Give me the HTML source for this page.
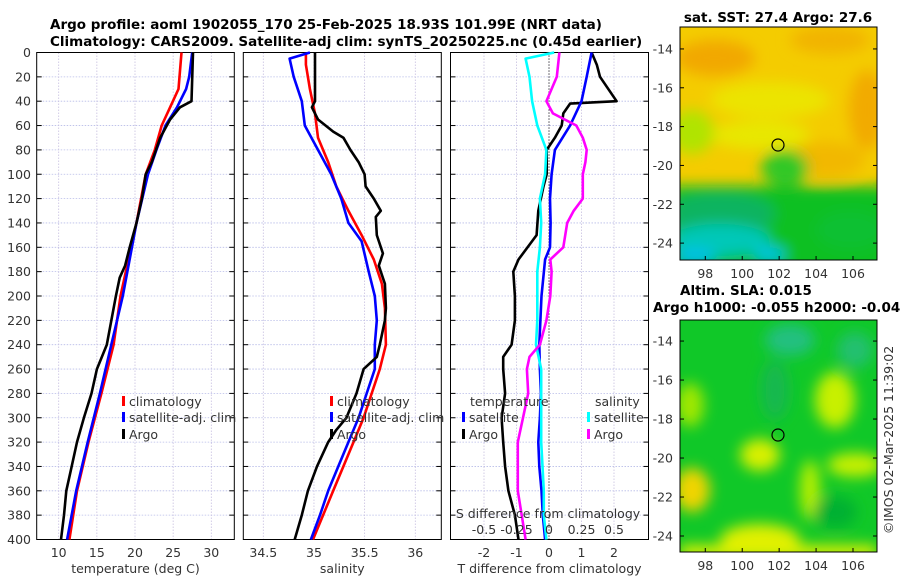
<!DOCTYPE html>
<html><head><meta charset="utf-8"><style>
html,body{margin:0;padding:0;background:#fff;}
svg{display:block;font-family:"DejaVu Sans","Liberation Sans",sans-serif;}
.t{font-size:12.5px;fill:#333;}
.b{font-weight:bold;font-size:13.5px;fill:#000;}
</style></head><body>
<svg id="fig" width="900" height="580" viewBox="0 0 900 580">
<defs>
<filter id="bl" x="-20%" y="-20%" width="140%" height="140%"><feGaussianBlur stdDeviation="7"/></filter>
<clipPath id="c1"><rect x="680" y="27" width="197" height="233"/></clipPath>
<clipPath id="c2"><rect x="680" y="320" width="197" height="232"/></clipPath>
</defs>
<text class="b" x="50" y="29">Argo profile: aoml 1902055_170 25-Feb-2025 18.93S 101.99E (NRT data)</text>
<text class="b" x="50" y="46">Climatology: CARS2009. Satellite-adj clim: synTS_20250225.nc (0.45d earlier)</text>
<g id="p1"></g>
<g id="p2"></g>
<g id="p3"></g>

<!-- SST map -->
<g>
<text class="b" x="778" y="22" text-anchor="middle">sat. SST: 27.4 Argo: 27.6</text>
<g clip-path="url(#c1)">
<rect x="680" y="27" width="197" height="233" fill="#f4cc00"/>
<g filter="url(#bl)">
<ellipse cx="715" cy="58" rx="40" ry="18" fill="#f2a800"/>
<ellipse cx="830" cy="40" rx="40" ry="14" fill="#f2b400"/>
<ellipse cx="867" cy="110" rx="18" ry="40" fill="#f2aa00"/>
<ellipse cx="770" cy="100" rx="60" ry="18" fill="#ece400"/>
<ellipse cx="760" cy="135" rx="50" ry="14" fill="#e8e800"/>
<ellipse cx="692" cy="132" rx="22" ry="22" fill="#b0e400"/>
<ellipse cx="825" cy="160" rx="40" ry="18" fill="#f2b800"/>
<ellipse cx="785" cy="168" rx="24" ry="18" fill="#30c828"/>
<rect x="670" y="186" width="220" height="90" fill="#10c020"/>
<ellipse cx="720" cy="214" rx="55" ry="22" fill="#10b460"/>
<ellipse cx="720" cy="240" rx="50" ry="16" fill="#00c8b8"/>
<ellipse cx="695" cy="256" rx="22" ry="7" fill="#00c0f0"/>
<ellipse cx="770" cy="254" rx="16" ry="7" fill="#00c4e8"/>
<ellipse cx="850" cy="230" rx="35" ry="20" fill="#10c030"/>
</g>
</g>
<rect x="680" y="27" width="197" height="233" fill="none" stroke="#000" stroke-width="1"/>
<circle cx="778" cy="145" r="6" fill="none" stroke="#000" stroke-width="1.2"/>
<g id="m1ax"></g>
</g>

<!-- SLA map -->
<g>
<text class="b" x="680" y="295">Altim. SLA: 0.015</text>
<text class="b" x="653" y="312">Argo h1000: -0.055 h2000: -0.046</text>
<g clip-path="url(#c2)">
<rect x="680" y="320" width="197" height="232" fill="#10c828"/>
<g filter="url(#bl)">
<ellipse cx="790" cy="340" rx="25" ry="16" fill="#20c080"/>
<ellipse cx="855" cy="350" rx="18" ry="18" fill="#20c070"/>
<ellipse cx="775" cy="390" rx="14" ry="30" fill="#18b850"/>
<ellipse cx="835" cy="400" rx="20" ry="28" fill="#c8f000"/>
<ellipse cx="690" cy="405" rx="14" ry="22" fill="#a0e800"/>
<ellipse cx="760" cy="455" rx="20" ry="16" fill="#d8f000"/>
<ellipse cx="692" cy="490" rx="18" ry="22" fill="#f0d400"/>
<ellipse cx="855" cy="465" rx="28" ry="12" fill="#c8f000"/>
<ellipse cx="810" cy="490" rx="10" ry="30" fill="#b8f000"/>
<ellipse cx="835" cy="512" rx="22" ry="16" fill="#00b030"/>
<ellipse cx="760" cy="540" rx="40" ry="16" fill="#e0f000"/>
<rect x="680" y="545" width="197" height="15" fill="#e0f000"/>
</g>
</g>
<rect x="680" y="320" width="197" height="232" fill="none" stroke="#000" stroke-width="1"/>
<circle cx="778" cy="435" r="6" fill="none" stroke="#000" stroke-width="1.2"/>
<g id="m2ax"></g>
</g>
<text class="t" transform="translate(893,440) rotate(-90)" text-anchor="middle">©IMOS 02-Mar-2025 11:39:02</text>
</svg>
<script>
// ---- data ----
var depthTicks=[0,20,40,60,80,100,120,140,160,180,200,220,240,260,280,300,320,340,360,380,400];
var tTicks=[10,15,20,25,30];
var sTicks=[34.5,35,35.5,36];
var tdTicks=[-2,-1,0,1,2];
var sdTicks=[-0.5,-0.25,0,0.25,0.5];
var argoTD=[0,40,45,55,70,90,100,120,140,160,175,185,200,240,260,280,300,320,340,360,380,400];
var argoT=[27.6,27.4,25.9,24.6,23.3,22.2,21.4,20.9,20.2,19.3,18.7,18.0,17.5,16.3,15.0,14.3,13.3,12.4,11.7,11.0,10.7,10.3];
var climTD=[0,30,45,60,80,100,140,200,240,280,320,360,400];
var climT=[26.1,25.7,24.6,23.5,22.6,21.4,20.2,18.1,17.2,15.6,13.9,12.4,11.4];
var satTD=[0,20,30,45,60,80,100,140,200,240,280,320,360,400];
var satT=[27.5,27.1,26.7,25.5,24.0,22.8,21.7,20.2,18.4,16.9,15.4,13.8,12.3,11.1];
var argoSD=[0,40,45,55,65,70,80,90,100,110,120,130,135,150,165,175,190,210,220,240,250,260,280,300,310,320,340,360,380,400];
var argoS=[35.01,35.01,34.98,35.04,35.19,35.29,35.36,35.44,35.50,35.51,35.59,35.66,35.61,35.62,35.68,35.64,35.70,35.71,35.70,35.65,35.62,35.49,35.42,35.32,35.22,35.14,35.03,34.94,34.88,34.81];
var climSD=[0,10,30,50,70,90,110,130,150,170,190,210,240,260,280,300,320,340,360,380,400];
var climS=[34.92,34.92,34.96,35.01,35.04,35.14,35.22,35.34,35.47,35.59,35.67,35.70,35.71,35.65,35.57,35.49,35.39,35.29,35.19,35.09,34.99];
var satSD=[0,5,20,40,60,80,100,120,140,155,180,200,220,240,260,280,300,320,340,360,380,400];
var satS=[34.96,34.76,34.80,34.88,34.91,35.04,35.17,35.27,35.34,35.47,35.54,35.60,35.62,35.60,35.60,35.52,35.44,35.34,35.24,35.14,35.06,34.97];
var dArgoTD=[0,10,20,40,42,50,60,70,80,100,110,130,150,170,180,200,220,240,250,260,280,300,320,340,360,380,400];
var dArgoT=[1.31,1.47,1.57,2.08,0.65,0.44,0.39,0.18,-0.07,-0.07,-0.17,-0.33,-0.38,-0.94,-1.10,-1.05,-1.05,-1.15,-1.41,-1.41,-1.35,-1.46,-1.41,-1.35,-1.25,-1.05,-0.94];
var dSatTD=[0,20,40,60,80,100,120,140,160,170,200,240,260,280,300,320,340,360,380,400];
var dSatT=[1.31,1.16,1.0,0.65,0.18,0.08,0.03,0.05,0.03,-0.12,-0.23,-0.30,-0.28,-0.25,-0.28,-0.33,-0.30,-0.23,-0.19,-0.12];
var dSatSD=[0,5,20,40,60,80,100,120,140,160,180,200,220,240,260,280,300,320,340,360,380,400];
var dSatS=[0.04,-0.18,-0.15,-0.13,-0.09,-0.02,-0.03,-0.07,-0.06,-0.07,-0.09,-0.09,-0.09,-0.10,-0.06,-0.06,-0.06,-0.06,-0.05,-0.04,-0.04,-0.02];
var dArgoSD=[0,20,40,50,60,70,80,90,100,120,130,140,160,170,180,200,220,240,250,260,280,300,320,340,360,380,400];
var dArgoS=[0.08,0.06,-0.02,0.03,0.21,0.26,0.29,0.28,0.26,0.26,0.19,0.14,0.11,0.01,0.02,0.01,-0.02,-0.07,-0.15,-0.17,-0.16,-0.20,-0.24,-0.24,-0.24,-0.21,-0.18];
var latTicks=[-14,-16,-18,-20,-22,-24];
var lonTicks=[98,100,102,104,106];

// ---- helpers ----
var NS='http://www.w3.org/2000/svg';
function mk(parent,tag,attrs,txt){var e=document.createElementNS(NS,tag);for(var k in attrs)e.setAttribute(k,attrs[k]);if(txt!==undefined)e.textContent=txt;parent.appendChild(e);return e;}
var Y0=52.5,Y1=539.5;
function yD(d){return Y0+(d/400)*(Y1-Y0);}
function lin(d0,d1,r0,r1){return function(v){return r0+(v-d0)/(d1-d0)*(r1-r0);};}

function panel(g,L,R,xf,ticks,fmt,label,showY){
  mk(g,'rect',{x:L,y:Y0,width:R-L,height:Y1-Y0,fill:'#fff'});
  depthTicks.forEach(function(d){
    var l=mk(g,'line',{x1:L,x2:R,y1:yD(d),y2:yD(d),stroke:'#b8bce8','stroke-width':0.8,'stroke-dasharray':'1.5,1.5'});
    
    
    mk(g,'line',{x1:L,x2:L+5,y1:yD(d),y2:yD(d),stroke:'#000'});
    mk(g,'line',{x1:R-5,x2:R,y1:yD(d),y2:yD(d),stroke:'#000'});
    if(showY){var t=mk(g,'text',{x:31,y:yD(d)+4.5,'text-anchor':'end','class':'t'},String(d));
      
      }
  });
  ticks.forEach(function(v){
    var x=xf(v);
    var l=mk(g,'line',{x1:x,x2:x,y1:Y0,y2:Y1,stroke:'#c8c0e0','stroke-width':0.8,'stroke-dasharray':'1.5,1.5'});
    
    
    if(fmt){var t=mk(g,'text',{x:x,y:557,'text-anchor':'middle','class':'t'},fmt(v));
      
      }
  });
  var b=mk(g,'rect',{x:L,y:Y0,width:R-L,height:Y1-Y0,fill:'none',stroke:'#000','stroke-width':1});
  
  
  var xl=mk(g,'text',{x:(L+R)/2,y:573,'text-anchor':'middle','class':'t'},label);
  
  
}
function series(g,xs,ds,xf,color,name){
  var p=xs.map(function(v,i){return xf(v).toFixed(1)+','+yD(ds[i]).toFixed(1);}).join(' ');
  var pl=mk(g,'polyline',{points:p,fill:'none',stroke:color,'stroke-width':2.6,'stroke-linejoin':'round'});
  
  
}
function legend(g,x,y,color,label,name){
  mk(g,'rect',{x:x,y:y-10,width:3,height:10,fill:color});
  var t=mk(g,'text',{x:x+7,y:y,'class':'t'},label);
  
  
}
// panel 1
var p1=document.getElementById('p1');
var xT=lin(10,30,58.7,211.3);
panel(p1,36.7,234.3,xT,tTicks,String,'temperature (deg C)',true);
series(p1,climT,climTD,xT,'#ff0000','climatology-temperature-line');
series(p1,satT,satTD,xT,'#0000ff','satellite-temperature-line');
series(p1,argoT,argoTD,xT,'#000000','argo-temperature-line');
legend(p1,122,406,'#ff0000','climatology','legend-climatology');
legend(p1,122,422,'#0000ff','satellite-adj. clim','legend-satellite-adj');
legend(p1,122,439,'#000000','Argo','legend-argo');
// panel 2
var p2=document.getElementById('p2');
var xS=lin(34.5,36,263.3,415.3);
panel(p2,243.3,441.3,xS,sTicks,String,'salinity',false);
series(p2,climS,climSD,xS,'#ff0000','climatology-salinity-line');
series(p2,satS,satSD,xS,'#0000ff','satellite-salinity-line');
series(p2,argoS,argoSD,xS,'#000000','argo-salinity-line');
legend(p2,330,406,'#ff0000','climatology','legend-climatology-s');
legend(p2,330,422,'#0000ff','satellite-adj. clim','legend-satellite-adj-s');
legend(p2,330,439,'#000000','Argo','legend-argo-s');
// panel 3
var p3=document.getElementById('p3');
var xTD=lin(0,2,549,614);
var xSD=lin(0,0.5,549,614);
panel(p3,450.5,648.5,xTD,tdTicks,String,'T difference from climatology',false);
var zl=mk(p3,'line',{x1:xTD(0),x2:xTD(0),y1:Y0,y2:Y1,stroke:'#000','stroke-width':1,'stroke-dasharray':'1,2'});


series(p3,dArgoT,dArgoTD,xTD,'#000000','argo-t-diff-line');
series(p3,dSatT,dSatTD,xTD,'#0000ff','satellite-t-diff-line');
series(p3,dSatS,dSatSD,xSD,'#00ffff','satellite-s-diff-line');
series(p3,dArgoS,dArgoSD,xSD,'#ff00ff','argo-s-diff-line');
var th=mk(p3,'text',{x:470,y:406,'class':'t'},'temperature');


var sh=mk(p3,'text',{x:595,y:406,'class':'t'},'salinity');


legend(p3,462,422,'#0000ff','satellite','legend-t-satellite');
legend(p3,462,439,'#000000','Argo','legend-t-argo');
legend(p3,587,422,'#00ffff','satellite','legend-s-satellite');
legend(p3,587,439,'#ff00ff','Argo','legend-s-argo');
var st=mk(p3,'text',{x:548,y:518,'text-anchor':'middle','class':'t'},'S difference from climatology');


sdTicks.forEach(function(v){
  var t=mk(p3,'text',{x:xSD(v),y:534,'text-anchor':'middle','class':'t'},String(v));
  
  
});
// maps
function mapAxes(id,top,bot,latTop,latBot){
  var g=document.getElementById(id);
  var yL=lin(latTop,latBot,top,bot), xL=lin(96.63,107.3,680,877);
  latTicks.forEach(function(v){
    var y=yL(v);
    mk(g,'line',{x1:680,x2:684,y1:y,y2:y,stroke:'#000'});
    mk(g,'line',{x1:873,x2:877,y1:y,y2:y,stroke:'#000'});
    var t=mk(g,'text',{x:673,y:y+4.5,'text-anchor':'end','class':'t'},String(v));
    
    
  });
  lonTicks.forEach(function(v){
    var x=xL(v);
    mk(g,'line',{x1:x,x2:x,y1:bot-4,y2:bot,stroke:'#000'});
    var t=mk(g,'text',{x:x,y:bot+18,'text-anchor':'middle','class':'t'},String(v));
    
    
  });
}
mapAxes('m1ax',27,260,-12.87,-24.87);
mapAxes('m2ax',320,552,-12.92,-24.82);
</script>
</body></html>
